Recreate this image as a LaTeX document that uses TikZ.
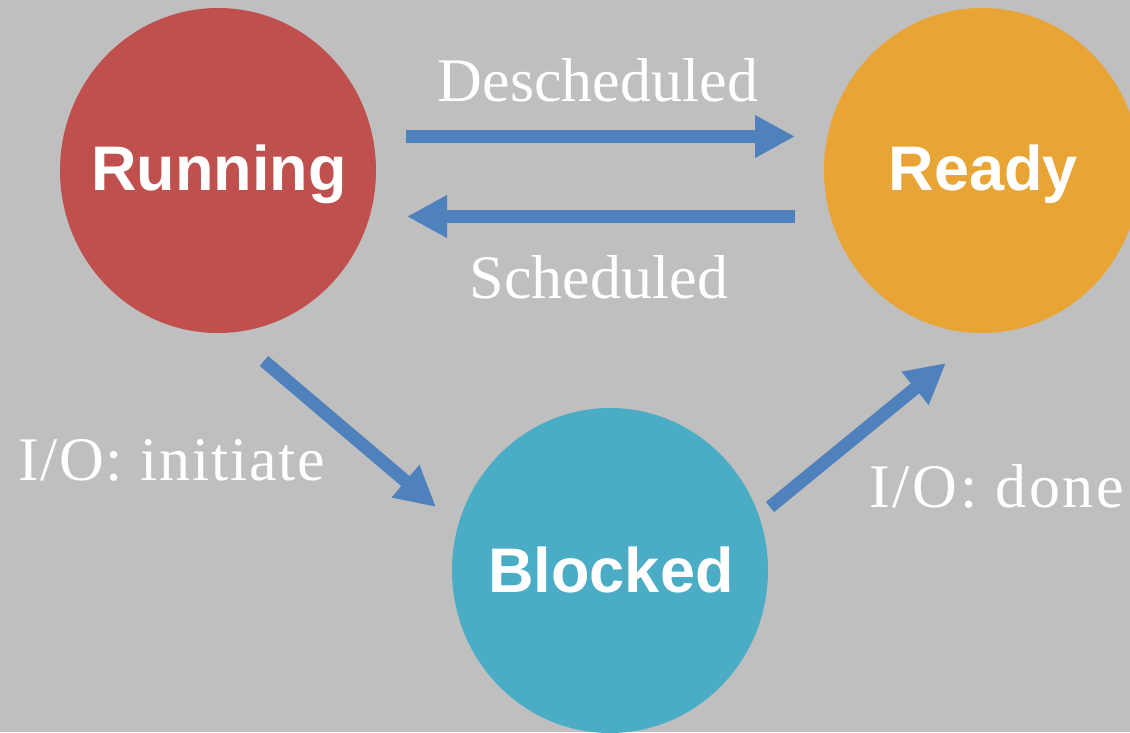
\documentclass[tikz,border=0pt]{standalone}
\usepackage{fontspec}
\newfontfamily\statefont{Liberation Sans}
\newfontfamily\transfont{Liberation Serif}
\newfontfamily\transfontA{Liberation Serif}[LetterSpace=2.8]
\newfontfamily\transfontB{Liberation Serif}[LetterSpace=4.4]
\usetikzlibrary{arrows.meta,shapes.geometric}
\definecolor{bg}{HTML}{BFBFBF}
\definecolor{runred}{HTML}{C0504D}
\definecolor{readyorange}{HTML}{E8A535}
\definecolor{blockteal}{HTML}{4BACC6}
\definecolor{arrowblue}{HTML}{4F81BD}
\begin{document}
\begin{tikzpicture}[x=1pt,y=-1pt,
  state/.style={ellipse, minimum width=316pt, minimum height=325pt, inner sep=0pt, draw=none},
  statetext/.style={text=white, font=\statefont\bfseries\fontsize{63}{63}\selectfont, anchor=base, inner sep=0pt},
  trans/.style={line width=13pt, draw=arrowblue, -{Triangle[length=40pt,width=40pt]}},
  transtext/.style={text=white, font=\transfont\fontsize{62}{62}\selectfont, inner sep=0pt}]
\fill[bg] (0,0) rectangle (1130,732);
\useasboundingbox (0,0) rectangle (1130,732);
% states
\node[state, fill=runred] (running) at (218,170.5) {};
\node[state, fill=readyorange] (ready) at (982,170.5) {};
\node[state, fill=blockteal] (blocked) at (610,570.5) {};
\node[statetext] (runningtext) at (219,190) {Running};
\node[statetext] (readytext) at (983.5,190) {Ready};
\node[statetext] (blockedtext) at (611,592) {Blocked};
% connector end points
\coordinate (d1) at (406,136.5);
\coordinate (d2) at (795,136.5);
\coordinate (s1) at (795,216.5);
\coordinate (s2) at (407,216.5);
\coordinate (i1) at (264,361);
\coordinate (i2) at (436,507);
\coordinate (o1) at (770,507);
\coordinate (o2) at (946,363);
% transitions
\draw[trans] (d1) -- (d2);
\draw[trans] (s1) -- (s2);
\draw[trans] (i1) -- (i2);
\draw[trans] (o1) -- (o2);
% labels
\node[transtext, anchor=base] (deschedtext) at (598,101) {Descheduled};
\node[transtext, anchor=base] (schedtext) at (599,298) {Scheduled};
\node[transtext, font=\transfontA\fontsize{62}{62}\selectfont, anchor=base west] (initiatetext) at (18,480) {I/O: initiate};
\node[transtext, font=\transfontB\fontsize{62}{62}\selectfont, anchor=base west] (donetext) at (869,507) {I/O: done};
\end{tikzpicture}
\end{document}
